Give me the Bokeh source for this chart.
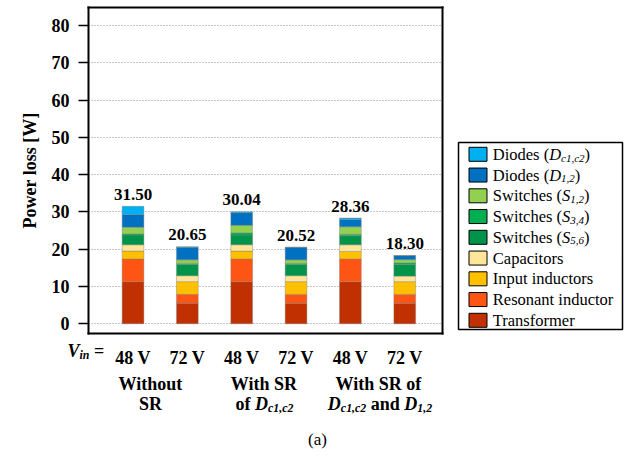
import numpy as np
from bokeh.plotting import figure
from bokeh.models import ColumnDataSource, Range1d, FixedTicker, Label, Grid, LinearAxis
from bokeh.layouts import row
from bokeh.embed import file_html
from bokeh.resources import INLINE
from bokeh.core.properties import value

# ---------------- data ----------------
conditions = ["48 V", "72 V", "48 V", "72 V", "48 V", "72 V"]
transformer = [11.3, 5.5, 11.3, 5.5, 11.3, 5.5]
resonant = [6.1, 2.4, 6.1, 2.4, 6.1, 2.4]
input_ind = [2.1, 3.4, 2.1, 3.4, 2.0, 3.4]
capacitors = [1.7, 1.6, 1.7, 1.6, 1.8, 1.5]
sw56 = [2.6, 3.0, 2.6, 3.0, 2.4, 3.1]
sw34 = [0.3, 0.3, 0.6, 0.3, 0.4, 0.45]
sw12 = [1.8, 0.95, 2.0, 0.95, 2.0, 0.85]
d12 = [3.4, 3.35, 3.4, 3.35, 2.0, 1.08]
dc = [2.2, 0.15, 0.24, 0.02, 0.36, 0.02]
totals_text = ["31.50", "20.65", "30.04", "20.52", "28.36", "18.30"]
y_ticks = [0, 10, 20, 30, 40, 50, 60, 70, 80]

series_keys = ["transformer", "resonant", "input", "caps", "s56", "s34", "s12", "d12", "dc"]
series_colors = ["#C03000", "#FF5514", "#FFC000", "#FFE699", "#00934A",
                 "#00B050", "#92D050", "#0070C0", "#00B0F0"]

FONT = "Liberation Serif"

# ---------------- font metrics (Times-compatible, per 1000 em) ----------------
W_R = {' ': 250, '(': 333, ')': 333, ',': 250, '.': 250, '=': 564, 'C': 667, 'D': 722,
       'I': 333, 'R': 667, 'S': 556, 'T': 611, 'V': 722, 'a': 444, 'c': 444, 'd': 500,
       'e': 444, 'f': 333, 'h': 500, 'i': 278, 'l': 278, 'm': 778, 'n': 500, 'o': 500,
       'p': 500, 'r': 333, 's': 389, 't': 278, 'u': 500, 'w': 722}
W_I = {' ': 250, ',': 250, 'D': 722, 'S': 500, 'c': 444, 'V': 611, 'i': 278, 'n': 500}
W_B = {' ': 250, '(': 333, ')': 333, ',': 250, '.': 250, '=': 570, 'D': 722, 'P': 611,
       'R': 722, 'S': 556, 'V': 722, 'W': 1000, 'a': 500, 'd': 556, 'e': 444, 'f': 333,
       'h': 556, 'i': 278, 'l': 278, 'n': 556, 'o': 500, 'r': 444, 's': 389, 't': 333,
       'u': 556, 'w': 722}
W_BI = {' ': 250, ',': 250, 'D': 722, 'V': 667, 'c': 444, 'i': 278, 'n': 556}
TABLES = {"normal": W_R, "italic": W_I, "bold": W_B, "bold italic": W_BI}


def text_width(s, style, size):
    t = TABLES[style]
    return sum(t.get(ch, 500) for ch in s) / 1000.0 * size


# ---------------- geometry (page px) ----------------
MAIN_W, H = 452, 462
BAR0_PX, PITCH = 132.5, 54.35        # centre of first bar, distance between bars
ZERO_PY, PPU = 323.3, 3.729          # y pixel of 0 W, pixels per W
BOX_L, BOX_R, BOX_T, BOX_B = 88, 442, 7, 333


def dx(px):
    return (px - BAR0_PX) / PITCH


def dy(py):
    return (ZERO_PY - py) / PPU


XL, XRt, YB, YT = dx(BOX_L), dx(BOX_R), dy(BOX_B), dy(BOX_T)
XB = (dx(BOX_L - 1), dx(BOX_R + 1))   # box edge extents incl. line width
YBd = (dy(BOX_B + 1), dy(BOX_T - 1))

src = ColumnDataSource(dict(
    x=np.arange(len(conditions)),
    transformer=transformer, resonant=resonant, input=input_ind, caps=capacitors,
    s56=sw56, s34=sw34, s12=sw12, d12=d12, dc=dc,
))
totals = np.sum([transformer, resonant, input_ind, capacitors, sw56, sw34, sw12, d12, dc], axis=0)

# frame covers the whole canvas so that every text below the plot box is drawn
p = figure(width=MAIN_W, height=H, output_backend="svg", toolbar_location=None,
           x_range=Range1d(dx(0), dx(MAIN_W)), y_range=Range1d(dy(H), dy(0)),
           min_border=0)
p.background_fill_color = "white"
p.border_fill_color = "white"
p.outline_line_color = None

# grid lines (dotted), limited to the plot box
p.xgrid.visible = False
if "cross_bounds" in Grid.properties():
    p.ygrid.ticker = FixedTicker(ticks=y_ticks)
    p.ygrid.cross_bounds = (XL, XRt)
    p.ygrid.grid_line_color = "#8c8c8c"
    p.ygrid.grid_line_dash = "1 2"
    p.ygrid.grid_line_width = 1
else:
    p.ygrid.visible = False
    p.segment(x0=[XL] * len(y_ticks), x1=[XRt] * len(y_ticks), y0=y_ticks, y1=y_ticks,
              line_color="#8c8c8c", line_dash="1 2", line_width=1)

p.vbar_stack(series_keys, x="x", width=0.4, color=series_colors, source=src,
             line_color="#7f7f7f", line_width=0.6, line_alpha=0.7)

p.text(x=np.arange(len(conditions)), y=totals, text=totals_text,
       text_font=value(FONT), text_font_style="bold", text_font_size="17px",
       text_align="center", text_baseline="middle", y_offset=-12, color="black")

# y axis, fixed at the box's left edge (its line is the box's left side)
p.yaxis.fixed_location = XL
p.yaxis.bounds = YBd
p.yaxis.ticker = FixedTicker(ticks=y_ticks)
p.yaxis.axis_label = "Power loss [W]"
p.yaxis.axis_label_text_font = FONT
p.yaxis.axis_label_text_font_style = "bold"
p.yaxis.axis_label_text_font_size = "18px"
p.yaxis.axis_label_text_color = "black"
p.yaxis.axis_label_standoff = 9
p.yaxis.major_label_text_font = FONT
p.yaxis.major_label_text_font_style = "bold"
p.yaxis.major_label_text_font_size = "18px"
p.yaxis.major_label_text_color = "black"
p.yaxis.major_label_standoff = 9
p.yaxis.axis_line_color = "black"
p.yaxis.axis_line_width = 2
p.yaxis.major_tick_line_color = "black"
p.yaxis.major_tick_line_width = 1.5
p.yaxis.major_tick_out = 10
p.yaxis.major_tick_in = 0
p.yaxis.minor_tick_line_color = None

# x axis (input voltage), fixed at the box's bottom edge (its line is the box's bottom)
p.xaxis.fixed_location = YB
p.xaxis.bounds = XB
p.xaxis.ticker = FixedTicker(ticks=list(range(len(conditions))))
p.xaxis.major_label_overrides = {i: c for i, c in enumerate(conditions)}
p.xaxis.major_label_text_font = FONT
p.xaxis.major_label_text_font_style = "bold"
p.xaxis.major_label_text_font_size = "18px"
p.xaxis.major_label_text_color = "black"
p.xaxis.major_label_standoff = 8
p.xaxis.axis_line_color = "black"
p.xaxis.axis_line_width = 2
p.xaxis.major_tick_line_color = None
p.xaxis.minor_tick_line_color = None

# plain axes forming the box's right and top sides
right_ax = LinearAxis(fixed_location=XRt, bounds=YBd, ticker=FixedTicker(ticks=[]),
                      axis_line_color="black", axis_line_width=2,
                      major_tick_line_color=None, minor_tick_line_color=None,
                      major_label_text_font_size="0px")
top_ax = LinearAxis(fixed_location=YT, bounds=XB, ticker=FixedTicker(ticks=[]),
                    axis_line_color="black", axis_line_width=2,
                    major_tick_line_color=None, minor_tick_line_color=None,
                    major_label_text_font_size="0px")
p.add_layout(right_ax, "right")
p.add_layout(top_ax, "above")


def rich(parts, px, py, size, anchor="left"):
    """parts: (text, style, is_sub); px left/center page x; py visual middle page y."""
    sub_size = size * 0.66
    widths = [text_width(t, st, sub_size if sb else size) for t, st, sb in parts]
    total = sum(widths)
    x = px - total / 2 if anchor == "center" else px
    for (t, st, sb), w in zip(parts, widths):
        sz = sub_size if sb else size
        lead = text_width(t[:len(t) - len(t.lstrip())], st, sz)
        yy = py + (4 if sb else 0)
        p.add_layout(Label(x=dx(x + lead), y=dy(yy), text=t.strip(),
                           text_font=FONT, text_font_style=st,
                           text_font_size="%.1fpx" % sz,
                           text_color="black", text_align="left",
                           text_baseline="middle"))
        x += w


B, BI = "bold", "bold italic"
rich([("V", BI, False), ("in", BI, True), (" =", B, False)], 67, 350, 18)
rich([("Without", B, False)], 150, 383, 18, "center")
rich([("SR", B, False)], 150, 403, 18, "center")
rich([("With SR", B, False)], 263.5, 383, 18, "center")
rich([("of ", B, False), ("D", BI, False), ("c1,c2", BI, True)], 264, 403, 18, "center")
rich([("With SR of", B, False)], 378, 383, 18, "center")
rich([("D", BI, False), ("c1,c2", BI, True), (" and ", B, False),
      ("D", BI, False), ("1,2", BI, True)], 379.5, 403, 18, "center")
rich([("(a)", "normal", False)], 317, 439, 17, "center")

# ---------------- legend figure ----------------
LEG_W = 634 - MAIN_W
LL, LR, LT, LB = 458, 622, 142, 329      # legend box (page px)
legend_parts = [
    [("Diodes (", "normal", False), ("D", "italic", False), ("c1,c2", "italic", True), (")", "normal", False)],
    [("Diodes (", "normal", False), ("D", "italic", False), ("1,2", "italic", True), (")", "normal", False)],
    [("Switches (", "normal", False), ("S", "italic", False), ("1,2", "italic", True), (")", "normal", False)],
    [("Switches (", "normal", False), ("S", "italic", False), ("3,4", "italic", True), (")", "normal", False)],
    [("Switches (", "normal", False), ("S", "italic", False), ("5,6", "italic", True), (")", "normal", False)],
    [("Capacitors", "normal", False)],
    [("Input inductors", "normal", False)],
    [("Resonant inductor", "normal", False)],
    [("Transformer", "normal", False)],
]
legend_colors = series_colors[::-1]

q = figure(width=LEG_W, height=H, output_backend="svg", toolbar_location=None,
           x_range=Range1d(0, LEG_W), y_range=Range1d(0, H),
           x_axis_location=None, y_axis_location=None, min_border=0)
q.grid.visible = False
q.outline_line_color = None
q.background_fill_color = "white"
q.border_fill_color = "white"


def lx(px):
    return px - MAIN_W


def ly(py):
    return H - py


q.rect(x=[lx((LL + LR) / 2)], y=[ly((LT + LB) / 2)], width=LR - LL, height=LB - LT,
       fill_color="white", line_color="black", line_width=1.5)

row_y = [153.8 + 20.75 * i for i in range(len(legend_parts))]
q.rect(x=[lx(477.5)] * len(row_y), y=[ly(y) for y in row_y], width=18, height=14,
       fill_color=legend_colors, line_color="black", line_width=1)

FS, SS = 16.5, 11.0
tx, ty, tt, tst, tsz = [], [], [], [], []
for parts, yc in zip(legend_parts, row_y):
    x = lx(492.3)
    for t, st, sb in parts:
        sz = SS if sb else FS
        tx.append(x)
        ty.append(ly(yc + (3.5 if sb else 0)))
        tt.append(t)
        tst.append(st)
        tsz.append("%.1fpx" % sz)
        x += text_width(t, st, sz)
q.text(x="x", y="y", text="t", text_font_style="st", text_font_size="sz",
       text_font=value(FONT), text_align="left", text_baseline="middle", color="black",
       source=ColumnDataSource(dict(x=tx, y=ty, t=tt, st=tst, sz=tsz)))

layout = row(p, q)
open("out.html", "w").write(file_html(layout, INLINE))
